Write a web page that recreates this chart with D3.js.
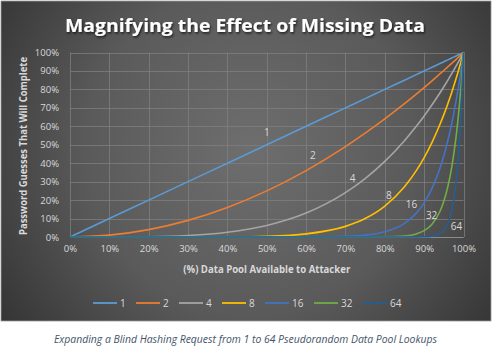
<!DOCTYPE html>
<html><head><meta charset="utf-8">
<script src="https://cdn.jsdelivr.net/npm/d3@7"></script>
<style>
html,body{margin:0;padding:0;background:#fff;}
svg{display:block;}
</style></head>
<body>
<script>
// ---- data ----
const xValues = [0, 0.1, 0.2, 0.3, 0.4, 0.5, 0.6, 0.7, 0.75, 0.8, 0.85, 0.88, 0.9, 0.92, 0.94, 0.95, 0.96, 0.97, 0.98, 0.985, 0.99, 0.995, 1];
const seriesNames = ["1", "2", "4", "8", "16", "32", "64"];
const s1  = [0, 0.1, 0.2, 0.3, 0.4, 0.5, 0.6, 0.7, 0.75, 0.8, 0.85, 0.88, 0.9, 0.92, 0.94, 0.95, 0.96, 0.97, 0.98, 0.985, 0.99, 0.995, 1];
const s2  = [0, 0.01, 0.04, 0.09, 0.16, 0.25, 0.36, 0.49, 0.5625, 0.64, 0.7225, 0.7744, 0.81, 0.8464, 0.8836, 0.9025, 0.9216, 0.9409, 0.9604, 0.9702, 0.9801, 0.99, 1];
const s4  = [0, 0.0001, 0.0016, 0.0081, 0.0256, 0.0625, 0.1296, 0.2401, 0.3164, 0.4096, 0.522, 0.5997, 0.6561, 0.7164, 0.7807, 0.8145, 0.8493, 0.8853, 0.9224, 0.9413, 0.9606, 0.9801, 1];
const s8  = [0, 0, 0.000003, 0.00007, 0.00066, 0.0039, 0.0168, 0.0576, 0.1001, 0.1678, 0.2725, 0.3596, 0.4305, 0.5132, 0.6096, 0.6634, 0.7214, 0.7837, 0.8508, 0.886, 0.9227, 0.9607, 1];
const s16 = [0, 0, 0, 0, 0, 0.000015, 0.00028, 0.0033, 0.01, 0.0281, 0.0743, 0.1293, 0.1853, 0.2634, 0.3716, 0.4401, 0.5204, 0.6142, 0.7238, 0.785, 0.8515, 0.9229, 1];
const s32 = [0, 0, 0, 0, 0, 0, 0, 0.000011, 0.0001, 0.00079, 0.0055, 0.0167, 0.0343, 0.0694, 0.1381, 0.1937, 0.2708, 0.3773, 0.5239, 0.6163, 0.725, 0.8518, 1];
const s64 = [0, 0, 0, 0, 0, 0, 0, 0, 0, 0, 0.00003, 0.00028, 0.0012, 0.0048, 0.0191, 0.0375, 0.0734, 0.1424, 0.2745, 0.3798, 0.5256, 0.7255, 1];
const seriesValues = [s1, s2, s4, s8, s16, s32, s64];
const seriesColors = ["#5b9bd5", "#ed7d31", "#a5a5a5", "#ffc000", "#4472c4", "#70ad47", "#255e91"];
// data-label anchors (in data units)
const labelX = [0.50, 0.617, 0.718, 0.81, 0.868, 0.919, 0.982];
const labelY = [0.57, 0.445, 0.32, 0.225, 0.18, 0.12, 0.06];
const xTicks = [0, 0.1, 0.2, 0.3, 0.4, 0.5, 0.6, 0.7, 0.8, 0.9, 1];
const yTicks = [0, 0.1, 0.2, 0.3, 0.4, 0.5, 0.6, 0.7, 0.8, 0.9, 1];
const titleText = "Magnifying the Effect of Missing Data";
const xTitle = "(%) Data Pool Available to Attacker";
const yTitle = "Password Guesses That Will Complete";
const caption = "Expanding a Blind Hashing Request from 1 to 64 Pseudorandom Data Pool Lookups";

// ---- layout ----
const W = 492, H = 356;
const svg = d3.select("body").append("svg").attr("width", W).attr("height", H);
const defs = svg.append("defs");
const rg = defs.append("radialGradient").attr("id", "bg")
  .attr("gradientUnits", "userSpaceOnUse").attr("cx", 250).attr("cy", 150).attr("r", 300);
rg.append("stop").attr("offset", "0%").attr("stop-color", "#6e6e6e");
rg.append("stop").attr("offset", "55%").attr("stop-color", "#5a5a5a");
rg.append("stop").attr("offset", "100%").attr("stop-color", "#353535");
const sh = defs.append("filter").attr("id", "tshadow").attr("x", "-5%").attr("y", "-30%").attr("width", "110%").attr("height", "160%");
sh.append("feDropShadow").attr("dx", 1).attr("dy", 1.5).attr("stdDeviation", 1.2).attr("flood-color", "#000").attr("flood-opacity", 0.7);

svg.append("rect").attr("x", 0).attr("y", 0).attr("width", W).attr("height", H).attr("fill", "#fff");
svg.append("rect").attr("x", 1).attr("y", 1).attr("width", 490).attr("height", 320)
  .attr("fill", "url(#bg)").attr("stroke", "#9a9a9a").attr("stroke-width", 0.8);

const x = d3.scaleLinear().domain([0, 1]).range([70, 463.5]);
const y = d3.scaleLinear().domain([0, 1]).range([237, 52.5]);
const pct = d3.format(".0%");

// gridlines
const g = svg.append("g");
g.selectAll("line.h").data(yTicks).join("line")
  .attr("x1", x(0)).attr("x2", x(1)).attr("y1", d => Math.round(y(d)) + 0.5).attr("y2", d => Math.round(y(d)) + 0.5)
  .attr("stroke", "#808080").attr("stroke-width", 1).attr("stroke-opacity", 0.75);
g.selectAll("line.v").data(xTicks).join("line")
  .attr("y1", y(0)).attr("y2", y(1)).attr("x1", d => Math.round(x(d)) + 0.5).attr("x2", d => Math.round(x(d)) + 0.5)
  .attr("stroke", "#808080").attr("stroke-width", 1).attr("stroke-opacity", 0.75);

// axes
const font = "'Open Sans', 'Noto Sans', sans-serif";
const xAxis = svg.append("g").attr("transform", `translate(0,${y(0)})`)
  .call(d3.axisBottom(x).tickValues(xTicks).tickFormat(pct).tickSize(0).tickPadding(10));
const yAxis = svg.append("g").attr("transform", `translate(${x(0)},0)`)
  .call(d3.axisLeft(y).tickValues(yTicks).tickFormat(pct).tickSize(0).tickPadding(11));
[xAxis, yAxis].forEach(a => {
  a.select(".domain").remove();
  a.selectAll("text").attr("fill", "#d9d9d9").attr("font-family", font).attr("font-size", 9.5);
});
xAxis.selectAll("text").attr("dy", "0.5em");
svg.append("line").attr("x1", x(0)).attr("x2", x(1)).attr("y1", y(0) + 0.5).attr("y2", y(0) + 0.5)
  .attr("stroke", "#8c8c8c").attr("stroke-width", 1);

// lines
const line = d3.line().x((d, i) => x(xValues[i])).y(d => y(d)).curve(d3.curveMonotoneX);
svg.append("g").selectAll("path").data(seriesValues).join("path")
  .attr("d", d => line(d)).attr("fill", "none")
  .attr("stroke", (d, i) => seriesColors[i]).attr("stroke-width", 1.6);

// data labels
svg.append("g").selectAll("text").data(seriesNames).join("text")
  .attr("x", (d, i) => x(labelX[i])).attr("y", (d, i) => y(labelY[i]))
  .attr("text-anchor", "middle").attr("dominant-baseline", "central")
  .attr("fill", "#d9d9d9").attr("font-family", font).attr("font-size", 10)
  .text(d => d);

// title
svg.append("text").attr("x", 245).attr("y", 31.5).attr("text-anchor", "middle")
  .attr("fill", "#fff").attr("font-family", font).attr("font-weight", 700).attr("font-size", 18.5)
  .attr("textLength", 360).attr("lengthAdjust", "spacingAndGlyphs")
  .attr("filter", "url(#tshadow)").text(titleText);

// axis titles
svg.append("text").attr("x", (x(0) + x(1)) / 2).attr("y", 269).attr("text-anchor", "middle")
  .attr("dominant-baseline", "central").attr("fill", "#d9d9d9").attr("font-family", font)
  .attr("font-weight", 700).attr("font-size", 10).attr("textLength", 167).attr("lengthAdjust", "spacingAndGlyphs")
  .text(xTitle);
svg.append("text").attr("transform", `translate(23,146) rotate(-90)`).attr("text-anchor", "middle")
  .attr("dominant-baseline", "central").attr("fill", "#d9d9d9").attr("font-family", font)
  .attr("font-weight", 700).attr("font-size", 10).attr("textLength", 178).attr("lengthAdjust", "spacingAndGlyphs")
  .text(yTitle);

// legend
const legX = [93, 136, 179, 222, 265, 314, 363];
const leg = svg.append("g").selectAll("g").data(seriesNames).join("g")
  .attr("transform", (d, i) => `translate(${legX[i]},303)`);
leg.append("line").attr("x1", 0).attr("x2", 24).attr("y1", 0).attr("y2", 0)
  .attr("stroke", (d, i) => seriesColors[i]).attr("stroke-width", 1.8);
leg.append("text").attr("x", 27).attr("y", 0).attr("dominant-baseline", "central")
  .attr("fill", "#d9d9d9").attr("font-family", font).attr("font-size", 10).text(d => d);

// caption
svg.append("text").attr("x", 54).attr("y", 339).attr("dominant-baseline", "central")
  .attr("fill", "#44546a").attr("font-family", font).attr("font-style", "italic").attr("font-size", 10.5)
  .attr("textLength", 383).attr("lengthAdjust", "spacingAndGlyphs").text(caption);
</script>
</body></html>
